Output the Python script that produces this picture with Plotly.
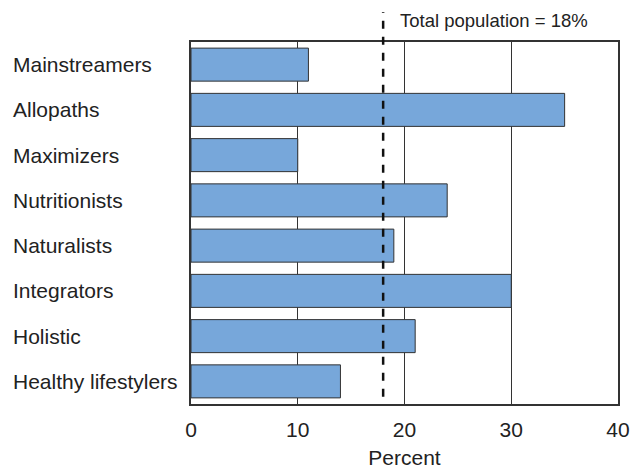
import plotly.graph_objects as go

categories = ["Mainstreamers", "Allopaths", "Maximizers", "Nutritionists",
              "Naturalists", "Integrators", "Holistic", "Healthy lifestylers"]
values = [11, 35, 10, 24, 19, 30, 21, 14]
total_population = 18
x_ticks = [0, 10, 20, 30, 40]

FONT = "Liberation Sans"
L, R, T, B = 191, 13, 42, 65
W, H = 631, 469
pw = W - L - R
ph = H - T - B

fig = go.Figure()
fig.add_trace(go.Bar(
    x=values, y=categories, orientation="h",
    marker=dict(color="#77A7DA", line=dict(color="#333333", width=1)),
    width=0.73, hoverinfo="skip"
))

for c in categories:
    fig.add_annotation(x=(11 - L) / pw, xref="paper", y=c, yref="y",
                       text=c, showarrow=False, xanchor="left",
                       font=dict(size=21, color="#222222", family=FONT))

fig.add_shape(type="line", xref="x", yref="paper",
              x0=total_population, x1=total_population,
              y0=0.02, y1=1 + (T - 12) / ph,
              line=dict(color="#111111", width=2.5, dash="8px,8px"))

fig.add_annotation(x=(398 - L) / pw, xref="paper", y=1 + (T - 20) / ph, yref="paper",
                   text=f"Total population = {total_population}%", showarrow=False,
                   xanchor="left", yanchor="middle",
                   font=dict(size=18.5, color="#222222", family=FONT))

fig.update_layout(
    width=W, height=H,
    margin=dict(l=L, r=R, t=T, b=B, autoexpand=False),
    paper_bgcolor="white", plot_bgcolor="white",
    showlegend=False,
    xaxis=dict(range=[0, 40], tickvals=x_ticks, ticks="", showgrid=True,
               gridcolor="#333333", gridwidth=1, zeroline=False,
               showline=True, linecolor="#333333", linewidth=1.5, mirror=True,
               ticklabelstandoff=6, automargin=False,
               tickfont=dict(size=21, color="#222222", family=FONT),
               title=dict(text="Percent", font=dict(size=21, color="#222222", family=FONT),
                          standoff=13)),
    yaxis=dict(autorange="reversed", showticklabels=False, ticks="",
               showgrid=False, zeroline=False, automargin=False,
               showline=True, linecolor="#333333", linewidth=1.5, mirror=True),
)

fig.write_html("out.html")
